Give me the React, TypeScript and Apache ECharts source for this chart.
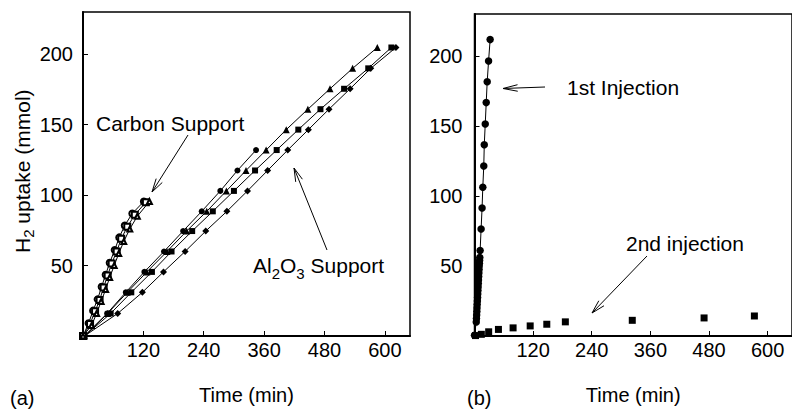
import React, { useEffect, useRef } from 'react';
import * as echarts from 'echarts';

// ---------- axes ----------
const X_MIN = 0;
const X_MAX = 650;
const X_INTERVAL = 120;
const Y_MIN = 0;
const Y_MAX = 230;
const Y_INTERVAL = 50;

// ---------- panel (a): Al2O3 support (filled markers) ----------
const AL_Y = [0, 16, 31, 45.5, 60, 74.5, 88.5, 103, 117.5, 132, 146.5, 161, 175.5, 190, 204.8];
const AL_CIRCLE_X = [3, 48, 85, 122, 161, 199, 236, 273, 307, 344];
const AL_TRIANGLE_X = [3, 49, 88, 127, 167, 206, 246, 285, 324, 364, 404, 447, 491, 536, 585];
const AL_SQUARE_X = [3, 55, 96, 137, 176, 217, 258, 300, 342, 385, 428, 472, 519, 567, 613];
const AL_DIAMOND_X = [3, 69, 118, 160, 203, 244, 286, 327, 367, 407, 448, 489, 531, 572, 622];

// ---------- panel (a): carbon support (open markers) ----------
const C_CIRCLE_X = [0, 11, 20, 29, 37, 45, 53, 63, 72, 83, 98, 121];
const C_CIRCLE_Y = [0, 9, 18, 26, 35, 43.5, 52, 61, 70, 78.5, 87, 95.5];
const C_SQUARE_X = [0, 14, 24, 33, 41, 49, 57, 67, 76, 88, 103, 125];
const C_SQUARE_Y = [0, 8.5, 17.5, 25.5, 34.5, 43, 51.5, 60, 69, 77.5, 86, 95];
const C_TRIANGLE_X = [0, 17, 27, 36, 45, 53, 62, 71, 81, 93, 108, 132];
const C_TRIANGLE_Y = [0, 7.5, 16, 24.5, 33, 41.5, 50, 58.5, 67, 76, 85, 95.5];

// ---------- panel (b): injections ----------
const FIRST_X = [0, 3.6, 4, 4.4, 4.8, 5.1, 5.5, 5.9, 6.3, 6.6, 7, 7.4, 7.8, 8.1, 8.5, 8.9, 9.3, 9.6, 10, 10.4, 10.8, 11.5, 13.5, 15.5, 17, 19, 20, 22, 24, 26, 28.8, 32];
const FIRST_Y = [0.5, 10, 12.5, 15, 17.5, 20, 22.5, 25, 27.5, 30, 32.5, 35, 37.5, 40, 42.5, 45, 47.5, 50, 52, 54, 56, 61, 76.4, 91.4, 106.2, 121.4, 136.6, 151.4, 166.7, 181.6, 196.4, 211.7];
const SECOND_X = [2, 14, 29, 49, 79, 114, 148, 186, 323, 470, 573];
const SECOND_Y = [0.3, 1.2, 3, 4.7, 5.8, 7.2, 8.4, 10.1, 11.2, 12.9, 14.3];

// ---------- texts ----------
const X_NAME = 'Time (min)';
const PANEL_A = '(a)';
const PANEL_B = '(b)';
const CARBON_LABEL = 'Carbon Support';
const FIRST_LABEL = '1st Injection';
const SECOND_LABEL = '2nd injection';

const FONT = '"Liberation Sans", Arial, Helvetica, sans-serif';

function zip(xs: number[], ys: number[]) {
  return xs.map((x, i) => [x, ys[i]]);
}

export default function App() {
  const ref = useRef<HTMLDivElement>(null);

  useEffect(() => {
    document.body.style.margin = '0';
    const el = ref.current!;
    const chart = echarts.init(el, null, { renderer: 'svg', width: 792, height: 410 });

    const ctx = document.createElement('canvas').getContext('2d')!;
    const tw = (t: string, size: number) => {
      ctx.font = `${size}px ${FONT}`;
      return ctx.measureText(t).width;
    };

    const txt = (text: string, x: number, y: number, size: number, align = 'left') => ({
      type: 'text',
      x,
      y,
      silent: true,
      style: {
        text,
        fill: '#000',
        font: `${size}px ${FONT}`,
        textAlign: align,
        textVerticalAlign: 'middle',
      },
    });

    // sequence of [text, isSub] laid out from x (local coords)
    const subSeq = (parts: [string, boolean][], x: number, y: number, size: number, subSize: number, subDy: number) => {
      const out: any[] = [];
      let cx = x;
      parts.forEach(([t, sub]) => {
        const s = sub ? subSize : size;
        out.push(txt(t, cx, sub ? y + subDy : y, s));
        cx += tw(t, s);
      });
      return out;
    };

    const arrow = (x1: number, y1: number, x2: number, y2: number, len = 14, ang = 0.26) => {
      const dx = x1 - x2;
      const dy = y1 - y2;
      const L = Math.hypot(dx, dy);
      const ux = dx / L;
      const uy = dy / L;
      const c = Math.cos(ang);
      const s = Math.sin(ang);
      const b1x = x2 + len * (ux * c - uy * s);
      const b1y = y2 + len * (ux * s + uy * c);
      const b2x = x2 + len * (ux * c + uy * s);
      const b2y = y2 + len * (-ux * s + uy * c);
      const st = { stroke: '#000', lineWidth: 1 };
      return [
        { type: 'line', silent: true, shape: { x1, y1, x2, y2 }, style: st },
        { type: 'line', silent: true, shape: { x1: b1x, y1: b1y, x2, y2 }, style: st },
        { type: 'line', silent: true, shape: { x1: b2x, y1: b2y, x2, y2 }, style: st },
      ];
    };

    const xAxisBase = (gridIndex: number) => ({
      type: 'value',
      gridIndex,
      min: X_MIN,
      max: X_MAX,
      interval: X_INTERVAL,
      name: X_NAME,
      nameLocation: 'middle',
      nameGap: 49,
      nameTextStyle: { fontSize: 20, color: '#000', fontFamily: FONT },
      axisLine: { show: true, onZero: false, lineStyle: { color: '#000', width: 2 } },
      axisTick: { show: true, inside: true, length: 5, lineStyle: { color: '#000', width: 1 } },
      axisLabel: { show: true, showMinLabel: false, showMaxLabel: false, fontSize: 20, color: '#000', fontFamily: FONT, margin: 4 },
      splitLine: { show: false },
    });

    const yAxisBase = (gridIndex: number, margin: number) => ({
      type: 'value',
      gridIndex,
      min: Y_MIN,
      max: Y_MAX,
      interval: Y_INTERVAL,
      axisLine: { show: true, onZero: false, lineStyle: { color: '#000', width: 2 } },
      axisTick: { show: true, inside: true, length: 5, lineStyle: { color: '#000', width: 1 } },
      axisLabel: { show: true, showMinLabel: false, showMaxLabel: false, fontSize: 20, color: '#000', fontFamily: FONT, margin },
      splitLine: { show: false },
    });

    const lineStyle = { color: '#000', width: 1 };

    const alSeries = (xs: number[], symbol: string, size: number | number[]) => ({
      type: 'line',
      xAxisIndex: 0,
      yAxisIndex: 0,
      data: zip(xs, AL_Y.slice(0, xs.length)),
      symbol,
      symbolSize: size,
      showAllSymbol: true,
      clip: false,
      silent: true,
      lineStyle,
      itemStyle: { color: '#000', opacity: 1 },
    });

    const cSeries = (xs: number[], ys: number[], symbol: string, size: number) => ({
      type: 'line',
      xAxisIndex: 0,
      yAxisIndex: 0,
      data: zip(xs, ys),
      symbol,
      symbolSize: size,
      showAllSymbol: true,
      clip: false,
      silent: true,
      lineStyle,
      itemStyle: { color: '#000', borderWidth: 1, opacity: 1 },
    });

    const graphics: any[] = [];
    // y-axis name (rotated, with subscript)
    graphics.push({
      type: 'group',
      x: 22,
      y: 253,
      rotation: Math.PI / 2,
      children: subSeq([['H', false], ['2', true], [' uptake (mmol)', false]], 0, 0, 21, 15, 6),
    });
    graphics.push(txt(CARBON_LABEL, 96, 123, 21));
    graphics.push(...subSeq([['Al', false], ['2', true], ['O', false], ['3', true], [' Support', false]], 253, 265, 21, 15, 8));
    graphics.push(txt(FIRST_LABEL, 567, 87, 21));
    graphics.push(txt(SECOND_LABEL, 626, 243, 21));
    graphics.push(txt(PANEL_A, 10, 398, 20));
    graphics.push(txt(PANEL_B, 467, 398, 20));
    graphics.push(...arrow(188, 135, 152, 192));
    graphics.push(...arrow(327, 250, 294, 168));
    graphics.push(...arrow(545, 87, 503, 88.5, 15, 0.22));
    graphics.push(...arrow(647, 256, 592, 313));

    const option: any = {
      animation: false,
      backgroundColor: '#fff',
      textStyle: { fontFamily: FONT },
      grid: [
        { left: 83, top: 12, width: 327, height: 328, show: true, borderColor: '#000', borderWidth: 1.5, backgroundColor: 'transparent' },
        { left: 474.5, top: 14, width: 328, height: 327, show: true, borderColor: '#000', borderWidth: 1.5, backgroundColor: 'transparent' },
      ],
      xAxis: [xAxisBase(0), xAxisBase(1)],
      yAxis: [yAxisBase(0, 10), yAxisBase(1, 12)],
      series: [
        alSeries(AL_CIRCLE_X, 'circle', 6),
        alSeries(AL_TRIANGLE_X, 'triangle', 7),
        alSeries(AL_SQUARE_X, 'rect', 6),
        alSeries(AL_DIAMOND_X, 'diamond', 7),
        cSeries(C_CIRCLE_X, C_CIRCLE_Y, 'emptyCircle', 6),
        cSeries(C_SQUARE_X, C_SQUARE_Y, 'emptyRect', 6),
        cSeries(C_TRIANGLE_X, C_TRIANGLE_Y, 'emptyTriangle', 5),
        {
          type: 'line',
          xAxisIndex: 1,
          yAxisIndex: 1,
          data: zip(FIRST_X, FIRST_Y),
          symbol: 'circle',
          symbolSize: 7.5,
          showAllSymbol: true,
          clip: false,
          silent: true,
          lineStyle,
          itemStyle: { color: '#000', opacity: 1 },
        },
        {
          type: 'scatter',
          xAxisIndex: 1,
          yAxisIndex: 1,
          data: zip(SECOND_X, SECOND_Y),
          symbol: 'rect',
          symbolSize: 7,
          clip: false,
          silent: true,
          itemStyle: { color: '#000', opacity: 1 },
        },
      ],
      graphic: graphics,
    };

    chart.setOption(option);
    return () => chart.dispose();
  }, []);

  return <div ref={ref} style={{ width: 792, height: 410 }} />;
}
